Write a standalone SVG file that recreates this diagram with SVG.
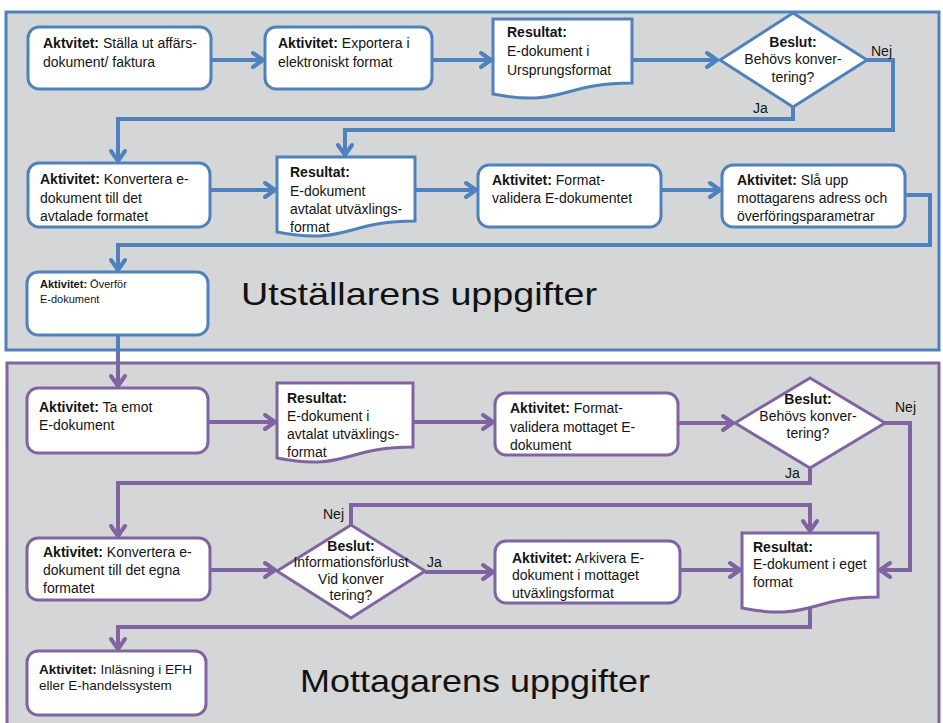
<svg xmlns="http://www.w3.org/2000/svg" width="943" height="723" viewBox="0 0 943 723">
<defs>
<style>
.panel-b{fill:#d4d6d7;stroke:#4f81bd;stroke-width:3}
.panel-p{fill:#d4d6d7;stroke:#8064a2;stroke-width:3}
.nb{fill:#fff;stroke:#4f81bd;stroke-width:3}
.np{fill:#fff;stroke:#8064a2;stroke-width:3}
.cb{fill:none;stroke:#4f81bd;stroke-width:4;marker-end:url(#ab)}
.cp{fill:none;stroke:#8064a2;stroke-width:4;marker-end:url(#ap)}
text{font-family:"Liberation Sans",Arial,sans-serif;font-size:14px;fill:#141414}
.b{font-weight:bold}
.c{text-anchor:middle}
.title{font-size:32px;fill:#111}
.sm{font-size:11px}
</style>
<marker id="ab" markerUnits="userSpaceOnUse" markerWidth="20" markerHeight="20" viewBox="0 0 20 20" refX="17" refY="10" orient="auto">
<path d="M7,3 L17,10 L7,17" fill="none" stroke="#4f81bd" stroke-width="4" stroke-linejoin="round" stroke-linecap="round"/>
</marker>
<marker id="ap" markerUnits="userSpaceOnUse" markerWidth="20" markerHeight="20" viewBox="0 0 20 20" refX="17" refY="10" orient="auto">
<path d="M7,3 L17,10 L7,17" fill="none" stroke="#8064a2" stroke-width="4" stroke-linejoin="round" stroke-linecap="round"/>
</marker>
<linearGradient id="g" gradientUnits="userSpaceOnUse" x1="0" y1="345" x2="0" y2="368">
<stop offset="0" stop-color="#4f81bd"/>
<stop offset="1" stop-color="#8064a2"/>
</linearGradient>
</defs>
<rect width="943" height="723" fill="#fff"/>
<g id="panels">
<rect class="panel-b" x="6" y="12" width="933" height="338"/>
<rect class="panel-p" x="7" y="363" width="932" height="372"/>
<text class="title" x="241" y="305" textLength="356" lengthAdjust="spacingAndGlyphs">Utställarens uppgifter</text>
<text class="title" x="300" y="692" textLength="350" lengthAdjust="spacingAndGlyphs">Mottagarens uppgifter</text>
</g>
<g id="connectors">
<path class="cb" d="M211,60 H263"/>
<path class="cb" d="M432,60 H491"/>
<path class="cb" d="M632,60 H717"/>
<path class="cb" d="M867,60 H893 V130 H345 V155"/>
<path class="cb" d="M793,107 V119 H118 V161"/>
<path class="cb" d="M210,190 H275"/>
<path class="cb" d="M415,190 H476"/>
<path class="cb" d="M661,190 H720"/>
<path class="cb" d="M905,195 H930 V245 H118 V270"/>
<path d="M118,335 V386" fill="none" stroke="url(#g)" stroke-width="4" marker-end="url(#ap)"/>
<path class="cp" d="M208,422 H275"/>
<path class="cp" d="M413,422 H493"/>
<path class="cp" d="M678,423 H733"/>
<path class="cp" d="M885,423 H910 V570 H880"/>
<path class="cp" d="M810,468 V483 H118 V536"/>
<path class="cp" d="M210,570 H275"/>
<path class="cp" d="M351,525 V505 H810 V531"/>
<path class="cp" d="M425,572 H493"/>
<path class="cp" d="M680,570 H740"/>
<path class="cp" d="M810,605 V627 H118 V649"/>
<text x="871" y="56">Nej</text>
<text x="753" y="113">Ja</text>
<text x="895" y="412">Nej</text>
<text x="785" y="478">Ja</text>
<text x="323" y="519">Nej</text>
<text x="427" y="567">Ja</text>
</g>
<g id="n1">
<rect class="nb" x="28" y="27" width="183" height="62" rx="11"/>
<text x="43" y="48"><tspan class="b">Aktvitet:</tspan> Ställa ut affärs-</text>
<text x="43" y="67">dokument/ faktura</text>
</g>
<g id="n2">
<rect class="nb" x="265" y="27" width="167" height="62" rx="11"/>
<text x="278" y="48"><tspan class="b">Aktivitet:</tspan> Exportera i</text>
<text x="278" y="67">elektroniskt format</text>
</g>
<g id="n3">
<path class="nb" d="M493,19 H632 V83 C562,83 562,107.6 493,94 Z"/>
<text x="507" y="37" class="b">Resultat:</text>
<text x="507" y="56">E-dokument i</text>
<text x="507" y="75">Ursprungsformat</text>
</g>
<g id="n4">
<polygon class="nb" points="720,60 793,13 867,60 793,107"/>
<text class="c b" x="793" y="47">Beslut:</text>
<text class="c" x="793" y="64">Behövs konver-</text>
<text class="c" x="793" y="82">tering?</text>
</g>
<g id="n5">
<rect class="nb" x="28" y="163" width="182" height="64" rx="11"/>
<text x="40" y="184"><tspan class="b">Aktivitet:</tspan> Konvertera e-</text>
<text x="40" y="203">dokument till det</text>
<text x="40" y="221">avtalade formatet</text>
</g>
<g id="n6">
<path class="nb" d="M277,157 H415 V221 C346,221 346,245.6 277,232 Z"/>
<text x="290" y="177" class="b">Resultat:</text>
<text x="290" y="196">E-dokument</text>
<text x="290" y="214">avtalat utväxlings-</text>
<text x="290" y="232">format</text>
</g>
<g id="n7">
<rect class="nb" x="478" y="165" width="183" height="62" rx="11"/>
<text x="492" y="185"><tspan class="b">Aktivitet:</tspan> Format-</text>
<text x="492" y="203">validera E-dokumentet</text>
</g>
<g id="n8">
<rect class="nb" x="722" y="165" width="183" height="62" rx="11"/>
<text x="737" y="185"><tspan class="b">Aktivitet:</tspan> Slå upp</text>
<text x="737" y="203">mottagarens adress och</text>
<text x="737" y="221">överföringsparametrar</text>
</g>
<g id="n9">
<rect class="nb" x="27" y="272" width="181" height="63" rx="11"/>
<text x="40" y="288" class="sm"><tspan class="b">Aktivitet:</tspan> Överför</text>
<text x="40" y="303" class="sm">E-dokument</text>
</g>
<g id="n10">
<rect class="np" x="27" y="388" width="181" height="65" rx="11"/>
<text x="39" y="412"><tspan class="b">Aktivitet:</tspan> Ta emot</text>
<text x="39" y="430">E-dokument</text>
</g>
<g id="n11">
<path class="np" d="M277,383 H413 V447 C345,447 345,471.6 277,458 Z"/>
<text x="287" y="403" class="b">Resultat:</text>
<text x="287" y="421">E-dokument i</text>
<text x="287" y="439">avtalat utväxlings-</text>
<text x="287" y="457">format</text>
</g>
<g id="n12">
<rect class="np" x="495" y="393" width="183" height="62" rx="11"/>
<text x="510" y="413"><tspan class="b">Aktivitet:</tspan> Format-</text>
<text x="510" y="432">validera mottaget E-</text>
<text x="510" y="450">dokument</text>
</g>
<g id="n13">
<polygon class="np" points="735,423 810,378 885,423 810,468"/>
<text class="c b" x="808" y="404">Beslut:</text>
<text class="c" x="808" y="421">Behövs konver-</text>
<text class="c" x="808" y="438">tering?</text>
</g>
<g id="n14">
<rect class="np" x="27" y="538" width="183" height="62" rx="11"/>
<text x="43" y="557"><tspan class="b">Aktivitet:</tspan> Konvertera e-</text>
<text x="43" y="575">dokument till det egna</text>
<text x="43" y="593">formatet</text>
</g>
<g id="n15">
<polygon class="np" points="277,571 351,525 425,571 351,618"/>
<text class="c b" x="351" y="551">Beslut:</text>
<text class="c" x="351" y="567">Informationsförlust</text>
<text class="c" x="351" y="584">Vid konver</text>
<text class="c" x="351" y="600">tering?</text>
</g>
<g id="n16">
<rect class="np" x="495" y="541" width="185" height="62" rx="11"/>
<text x="512" y="563"><tspan class="b">Aktivitet:</tspan> Arkivera E-</text>
<text x="512" y="580">dokument i mottaget</text>
<text x="512" y="598">utväxlingsformat</text>
</g>
<g id="n17">
<path class="np" d="M742,533 H878 V597 C810,597 810,621.6 742,608 Z"/>
<text x="753" y="552" class="b">Resultat:</text>
<text x="753" y="569">E-dokument i eget</text>
<text x="753" y="587">format</text>
</g>
<g id="n18">
<rect class="np" x="27" y="651" width="179" height="64" rx="11"/>
<text x="39" y="674" style="font-size:13.5px"><tspan class="b">Aktivitet:</tspan> Inläsning i EFH</text>
<text x="39" y="690" style="font-size:13.5px">eller E-handelssystem</text>
</g>
</svg>
